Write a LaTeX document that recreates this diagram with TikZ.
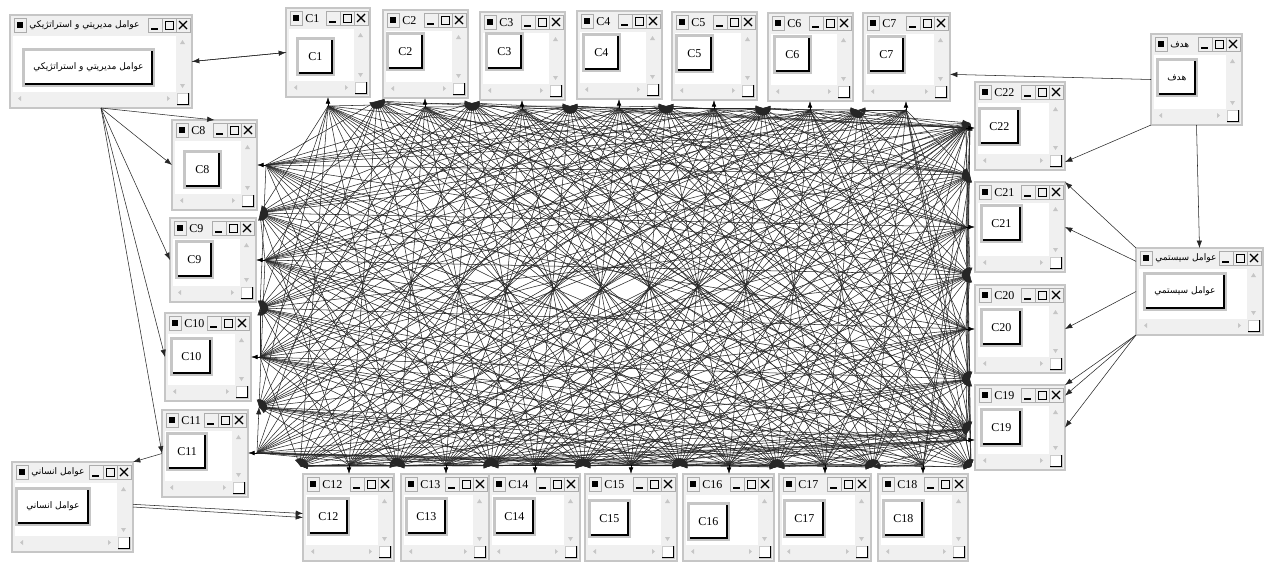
\documentclass[tikz,border=0pt]{standalone}
\usepackage{fontspec}
\setmainfont{Liberation Serif}
\newfontfamily\fafont[Script=Arabic]{DejaVu Sans}
\TeXXeTstate=1
\usetikzlibrary{arrows.meta,calc}

% persian label
\newcommand{\fa}[1]{{\fontsize{6.8}{8}\fafont\beginR #1\endR}}

% one cluster window: name, x, y, w, h, text, button x, button y
\newcommand{\sdwin}[8]{%
  \begin{scope}[shift={(#2,#3)}]
    \node[winframe, minimum width=#4*0.75pt, minimum height=#5*0.75pt] (#1) at (#4/2,#5/2) {};
    \fill[white] (3,21) rectangle (#4-16,#5-16);
    % scroll bars
    \fill[gray!12] (#4-16,21) rectangle (#4-3,#5-16);
    \fill[gray!12] (3,#5-16) rectangle (#4-16,#5-3);
    \fill[gray!45] (#4-9.5,25) -- (#4-12,29) -- (#4-7,29) -- cycle;
    \fill[gray!45] (#4-9.5,#5-20) -- (#4-12,#5-24) -- (#4-7,#5-24) -- cycle;
    \fill[gray!45] (8,#5-9.5) -- (11,#5-12) -- (11,#5-7) -- cycle;
    \fill[gray!45] (#4-22,#5-9.5) -- (#4-25,#5-12) -- (#4-25,#5-7) -- cycle;
    \draw[fill=white, draw=gray!40] (#4-15,#5-15) rectangle (#4-3,#5-3);
    \draw[line width=0.9pt] (#4-15,#5-3.5) -- (#4-3.5,#5-3.5) -- (#4-3.5,#5-15);
    % title bar
    \draw[tbox] (4,3) rectangle (16,17);
    \fill (7,7) rectangle (13,13);
    \node[wintitle] (#1t) at (19,10.5) {#6};
    \draw[tbox] (#4-44,3) rectangle (#4-30,17);
    \draw[tbox] (#4-30,3) rectangle (#4-16,17);
    \draw[tbox] (#4-16,3) rectangle (#4-2,17);
    \draw[line width=1.3pt] (#4-41,14) -- (#4-34,14);
    \draw[line width=0.7pt] (#4-27,6) rectangle (#4-19,14);
    \draw[line width=1.4pt] (#4-27,6.5) -- (#4-19,6.5);
    \draw[line width=0.9pt] (#4-13,6) -- (#4-5,14) (#4-13,14) -- (#4-5,6);
    % button
    \node[btn] (#1b) at (#7,#8) {#6};
    \draw[line width=1.6pt] ([shift={(2.2pt,2.2pt)}]#1b.south west) -- ([shift={(-2.2pt,2.2pt)}]#1b.south east)
      -- ([shift={(-2.2pt,-2.2pt)}]#1b.north east);
  \end{scope}}

\begin{document}
\begin{tikzpicture}[
    x=0.75pt, y=-0.75pt,
    winframe/.style={draw=gray!45, line width=1.6pt, fill=gray!12, inner sep=0pt, outer sep=0pt},
    tbox/.style={draw=gray!65, line width=0.6pt, fill=gray!12},
    wintitle/.style={anchor=west, inner sep=0pt, font=\fontsize{9}{10}\selectfont},
    btn/.style={anchor=north west, draw=gray!45, line width=2pt, fill=white,
                minimum width=27pt, minimum height=27pt, inner xsep=7.5pt,
                font=\fontsize{9}{10}\selectfont},
    link/.style={draw=black!85, line width=0.4pt, -{Latex[length=5.5pt,width=4pt]}},
    into/.style={draw=black, line width=0.5pt, -{Latex[length=5pt,width=3.5pt]}},
  ]

  \useasboundingbox[fill=white] (0,0) rectangle (1272,561);

  % fan points (blobs) and entry points of the clusters
  \coordinate (h1) at (377,101);  \coordinate (t1) at (328,106);
  \coordinate (h2) at (472,103);  \coordinate (t2) at (425,107);
  \coordinate (h3) at (570,106);  \coordinate (t3) at (522,109);
  \coordinate (h4) at (666,106);  \coordinate (t4) at (619,108);
  \coordinate (h5) at (763,108);  \coordinate (t5) at (714,109);
  \coordinate (h6) at (858,110);  \coordinate (t6) at (810,110);
  \coordinate (h7) at (970,123);  \coordinate (t7) at (906,110);
  \coordinate (h8) at (260,213);  \coordinate (t8) at (266,165);
  \coordinate (h9) at (260,308);  \coordinate (t9) at (265,260);
  \coordinate (h10) at (259,407); \coordinate (t10) at (260,357);
  \coordinate (h11) at (300,466); \coordinate (t11) at (257,453);
  \coordinate (h12) at (397,466); \coordinate (t12) at (349,465);
  \coordinate (h13) at (491,466); \coordinate (t13) at (446,465);
  \coordinate (h14) at (583,466); \coordinate (t14) at (535,465);
  \coordinate (h15) at (680,466); \coordinate (t15) at (631,465);
  \coordinate (h16) at (777,467); \coordinate (t16) at (729,465);
  \coordinate (h17) at (873,467); \coordinate (t17) at (825,465);
  \coordinate (h18) at (971,467); \coordinate (t18) at (923,465);
  \coordinate (h19) at (970,429); \coordinate (t19) at (966,440);
  \coordinate (h20) at (970,379); \coordinate (t20) at (966,329);
  \coordinate (h21) at (970,275); \coordinate (t21) at (966,227);
  \coordinate (h22) at (970,175); \coordinate (t22) at (966,128);

  % clusters linked with one another (same side: neighbours only)
  \foreach \i in {1,...,22}{
    \foreach \j in {1,...,22}{
      \pgfmathtruncatemacro\si{\i<=7 ? 1 : (\i<=11 ? 2 : (\i<=18 ? 3 : 4))}
      \pgfmathtruncatemacro\sj{\j<=7 ? 1 : (\j<=11 ? 2 : (\j<=18 ? 3 : 4))}
      \pgfmathtruncatemacro\noline{(\i==\j) || ((\si==\sj) && (abs(\i-\j)>1))}
      \ifnum\noline=0
        \draw[link] (t\j) -- (h\i);
      \fi
    }
  }

  % windows
  \sdwin{mgmt}{10}{15}{182}{93}{\fa{عوامل مديريتي و استراتژيکي}}{12}{33}
  \sdwin{c1}{286}{8}{84}{89}{C1}{10}{29}
  \sdwin{c2}{383}{10}{85}{88}{C2}{3}{22}
  \sdwin{c3}{480}{12}{85}{88}{C3}{5}{20}
  \sdwin{c4}{577}{11}{85}{88}{C4}{5}{22}
  \sdwin{c5}{672}{12}{85}{88}{C5}{3}{22}
  \sdwin{c6}{768}{13}{85}{88}{C6}{5}{22}
  \sdwin{c7}{863}{13}{87}{88}{C7}{4}{22}
  \sdwin{goal}{1151}{34}{91}{91}{\fa{هدف}}{5}{24}
  \sdwin{c22}{975}{82}{90}{88}{C22}{3}{25}
  \sdwin{c21}{975}{182}{90}{90}{C21}{5}{22}
  \sdwin{c20}{975}{285}{90}{88}{C20}{5}{23}
  \sdwin{c19}{975}{385}{90}{85}{C19}{5}{23}
  \sdwin{sys}{1136}{248}{127}{87}{\fa{عوامل سيستمي}}{7}{24}
  \sdwin{c8}{172}{120}{85}{90}{C8}{11}{30}
  \sdwin{c9}{170}{218}{86}{84}{C9}{5}{22}
  \sdwin{c10}{165}{313}{86}{88}{C10}{5}{24}
  \sdwin{c11}{162}{410}{86}{87}{C11}{4}{22}
  \sdwin{human}{12}{462}{121}{90}{\fa{عوامل انساني}}{3}{25}
  \sdwin{c12}{303}{474}{91}{87}{C12}{4}{23}
  \sdwin{c13}{401}{474}{88}{87}{C13}{4}{23}
  \sdwin{c14}{489}{474}{91}{87}{C14}{4}{23}
  \sdwin{c15}{585}{474}{92}{87}{C15}{3}{25}
  \sdwin{c16}{683}{474}{91}{87}{C16}{4}{28}
  \sdwin{c17}{779}{474}{92}{87}{C17}{4}{25}
  \sdwin{c18}{878}{474}{90}{87}{C18}{4}{25}

  % entry arrows into the windows
  \foreach \j in {1,...,7} \draw[into] (t\j) -- (t\j |- c\j.south);
  \foreach \j in {8,...,11} \draw[into] (t\j) -- (t\j -| c\j.east);
  \foreach \j in {12,...,18} \draw[into] (t\j) -- (t\j |- c\j.north);
  \foreach \j in {19,...,22} \draw[into] (t\j) -- (t\j -| c\j.west);

  % outer clusters
  \draw[link] (mgmt.east) -- (c1.west);
  \draw[link] (c1.west) -- (mgmt.east);
  \draw[link] (mgmt.south) -- (c8.north);
  \draw[link] (mgmt.south) -- (c8.west);
  \draw[link] (mgmt.south) -- (c9.west);
  \draw[link] (mgmt.south) -- (c10.west);
  \draw[link] (mgmt.south) -- (c11.west);

  \draw[link] (goal.west) -- ([yshift=-13pt]c7.east);
  \draw[link] (goal.south west) -- ([yshift=6pt]c22.south east);
  \draw[link] (goal.south) -- (sys.north);
  \draw[link] (sys.north west) -- (c21.north east);
  \draw[link] ([yshift=-10pt]sys.north west) -- (c21.east);
  \draw[link] (sys.west) -- (c20.east);
  \draw[link] (sys.south west) -- (c19.north east);
  \draw[link] (sys.south west) -- ([yshift=-8pt]c19.north east);
  \draw[link] (sys.south west) -- (c19.east);

  \draw[link] (human.east) -- (c12.west);
  \draw[link] ([yshift=2pt]human.east) -- ([yshift=3pt]c12.west);
  \draw[link] (c11.west) -- (human.north east);

\end{tikzpicture}
\end{document}
